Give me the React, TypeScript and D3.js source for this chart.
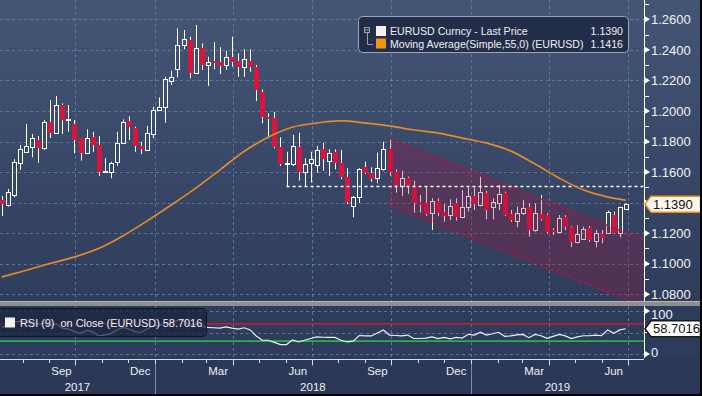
import React, { useRef, useEffect } from 'react';
import * as d3 from 'd3';

// weekly EURUSD bars, first bar = week of 3 Jul 2017
const FIRST_WEEK = '2017-07-03';

const opens = [
  1.1417, 1.1385, 1.1450, 1.1658, 1.1733, 1.1762, 1.1810, 1.1756, 1.1928, 1.1858,
  1.2039, 1.1940, 1.1915, 1.1821, 1.1727, 1.1828, 1.1777, 1.1603, 1.1603, 1.1668,
  1.1792, 1.1932, 1.1887, 1.1771, 1.1745, 1.1849, 1.2006, 1.2028, 1.2198, 1.2273,
  1.2432, 1.2465, 1.2251, 1.2410, 1.2301, 1.2329, 1.2323, 1.2301, 1.2351, 1.2329,
  1.2286, 1.2329, 1.2290, 1.2122, 1.1959, 1.1952, 1.1762, 1.1653, 1.1653, 1.1762,
  1.1603, 1.1658, 1.1646, 1.1749, 1.1675, 1.1733, 1.1658, 1.1566, 1.1378, 1.1435,
  1.1631, 1.1596, 1.1559, 1.1618, 1.1749, 1.1603, 1.1509, 1.1559, 1.1509, 1.1406,
  1.1396, 1.1330, 1.1413, 1.1341, 1.1319, 1.1396, 1.1304, 1.1370, 1.1443, 1.1385,
  1.1465, 1.1370, 1.1400, 1.1461, 1.1326, 1.1282, 1.1330, 1.1370, 1.1221, 1.1326,
  1.1319, 1.1223, 1.1210, 1.1308, 1.1239, 1.1144, 1.1160, 1.1232, 1.1151, 1.1195,
  1.1203, 1.1319, 1.1203, 1.1357,
];
const highs = [
  1.1443, 1.1489, 1.1684, 1.1777, 1.1915, 1.1849, 1.1836, 1.1941, 1.2072, 1.2098,
  1.2050, 1.2039, 1.1941, 1.1823, 1.1880, 1.1864, 1.1836, 1.1690, 1.1668, 1.1864,
  1.1945, 1.1965, 1.1897, 1.1799, 1.1902, 1.2028, 1.2089, 1.2224, 1.2264, 1.2541,
  1.2530, 1.2486, 1.2563, 1.2443, 1.2355, 1.2451, 1.2417, 1.2394, 1.2486, 1.2377,
  1.2404, 1.2404, 1.2300, 1.2142, 1.1985, 1.1995, 1.1828, 1.1733, 1.1843, 1.1858,
  1.1690, 1.1733, 1.1771, 1.1792, 1.1749, 1.1749, 1.1745, 1.1625, 1.1443, 1.1625,
  1.1668, 1.1631, 1.1727, 1.1799, 1.1815, 1.1618, 1.1609, 1.1570, 1.1544, 1.1450,
  1.1505, 1.1430, 1.1428, 1.1391, 1.1422, 1.1428, 1.1482, 1.1500, 1.1500, 1.1570,
  1.1478, 1.1428, 1.1516, 1.1472, 1.1352, 1.1374, 1.1418, 1.1396, 1.1396, 1.1450,
  1.1330, 1.1232, 1.1319, 1.1319, 1.1247, 1.1254, 1.1243, 1.1247, 1.1221, 1.1221,
  1.1347, 1.1341, 1.1374, 1.1396,
];
const lows = [
  1.1313, 1.1374, 1.1435, 1.1614, 1.1727, 1.1697, 1.1661, 1.1745, 1.1823, 1.1854,
  1.1849, 1.1864, 1.1723, 1.1675, 1.1718, 1.1733, 1.1574, 1.1599, 1.1559, 1.1640,
  1.1784, 1.1810, 1.1733, 1.1718, 1.1738, 1.1821, 1.2006, 1.1923, 1.2170, 1.2220,
  1.2404, 1.2214, 1.2242, 1.2268, 1.2164, 1.2273, 1.2242, 1.2268, 1.2290, 1.2224,
  1.2224, 1.2257, 1.2065, 1.1919, 1.1821, 1.1756, 1.1640, 1.1509, 1.1640, 1.1544,
  1.1509, 1.1531, 1.1596, 1.1609, 1.1574, 1.1618, 1.1553, 1.1391, 1.1304, 1.1396,
  1.1588, 1.1537, 1.1527, 1.1609, 1.1574, 1.1465, 1.1443, 1.1457, 1.1334, 1.1334,
  1.1313, 1.1221, 1.1313, 1.1275, 1.1286, 1.1282, 1.1298, 1.1341, 1.1352, 1.1374,
  1.1291, 1.1291, 1.1352, 1.1313, 1.1275, 1.1239, 1.1319, 1.1177, 1.1210, 1.1282,
  1.1199, 1.1188, 1.1199, 1.1221, 1.1108, 1.1134, 1.1156, 1.1144, 1.1108, 1.1134,
  1.1199, 1.1195, 1.1173, 1.1352,
];
const closes = [
  1.1391, 1.1472, 1.1668, 1.1749, 1.1771, 1.1821, 1.1756, 1.1930, 1.1858, 1.2039,
  1.1941, 1.1946, 1.1810, 1.1727, 1.1821, 1.1777, 1.1603, 1.1606, 1.1661, 1.1788,
  1.1930, 1.1897, 1.1771, 1.1749, 1.1858, 1.2006, 1.2028, 1.2207, 1.2224, 1.2432,
  1.2469, 1.2251, 1.2410, 1.2301, 1.2319, 1.2312, 1.2294, 1.2355, 1.2322, 1.2286,
  1.2338, 1.2286, 1.2135, 1.1959, 1.1946, 1.1766, 1.1653, 1.1661, 1.1771, 1.1603,
  1.1653, 1.1684, 1.1745, 1.1684, 1.1727, 1.1658, 1.1566, 1.1406, 1.1435, 1.1618,
  1.1596, 1.1553, 1.1625, 1.1749, 1.1603, 1.1515, 1.1559, 1.1509, 1.1400, 1.1385,
  1.1326, 1.1413, 1.1330, 1.1313, 1.1378, 1.1304, 1.1370, 1.1443, 1.1391, 1.1472,
  1.1352, 1.1406, 1.1457, 1.1319, 1.1287, 1.1334, 1.1363, 1.1221, 1.1330, 1.1293,
  1.1210, 1.1215, 1.1298, 1.1239, 1.1144, 1.1195, 1.1226, 1.1156, 1.1199, 1.1167,
  1.1341, 1.1203, 1.1370, 1.1390,
];

// RSI(9) on close, one value per week
const rsiValues = [
  62, 68, 75, 76, 74, 75, 70, 72, 66, 70,
  60, 58, 52, 48, 55, 52, 42, 44, 48, 56,
  62, 58, 52, 50, 58, 65, 66, 72, 72, 78,
  78, 66, 70, 64, 62, 61, 60, 63, 60, 58,
  61, 56, 42, 32, 32, 27, 22, 22, 33, 28,
  32, 36, 40, 39, 38.5, 38.5, 32, 28, 30, 43,
  42, 42, 49, 56, 44, 43, 42, 44, 36, 36,
  37, 40, 36, 38.5, 35, 38.5, 37, 45.7, 44, 50.5,
  44, 47, 50.5, 41, 42, 44.5, 45.7, 38, 45.7, 42.5,
  36.5, 41, 45.7, 42, 36, 40, 42.5, 42.5, 44, 42.5,
  56, 48, 56, 58.7,
];

// 55-week simple moving average, read every 4th week
const maWeeks = [0, 4, 8, 12, 16, 20, 24, 28, 32, 36, 40, 44, 48, 52, 56, 60, 64, 68, 72, 76, 80, 84, 88, 92, 96, 100, 103];
const maValues = [
  1.0913, 1.0957, 1.1002, 1.1044, 1.1100, 1.1183, 1.1280, 1.1385, 1.1494, 1.1614,
  1.1735, 1.1829, 1.1894, 1.1921, 1.1936, 1.1921, 1.1902, 1.1876, 1.1856, 1.1823,
  1.1790, 1.1738, 1.1653, 1.1561, 1.1483, 1.1437, 1.1416,
];

const priceTicks = [1.08, 1.10, 1.12, 1.14, 1.16, 1.18, 1.20, 1.22, 1.24, 1.26];
const rsiTicks = [0, 100];
const monthLabelDates = ['2017-09-15', '2017-12-15', '2018-03-15', '2018-06-15', '2018-09-15', '2018-12-15', '2019-03-15', '2019-06-15'];
const monthLabels = ['Sep', 'Dec', 'Mar', 'Jun', 'Sep', 'Dec', 'Mar', 'Jun'];
const yearLabels = ['2017', '2018', '2019'];

const lastPrice = 1.1390;
const lastMA = 1.1416;
const lastRSI = 58.7016;
const supportLevel = 1.1509;
const supportWeek = 47;
const channelDates = ['2018-09-28', '2019-07-20'];
const channelUpper = [1.1821, 1.1157];
const channelLower = [1.1385, 1.0720];

const App = () => {
  const svgRef = useRef(null);

  useEffect(() => {
    const width = 702;
    const height = 396;
    const plotRight = 644;
    const mainBottom = 301;
    const rsiTop = 306;
    const rsiBottom = 358;
    const axisY = 359.5;
    const font = 'Liberation Sans, Arial, sans-serif';

    const svg = d3.select(svgRef.current);
    svg.selectAll('*').remove();

    const parse = d3.timeParse('%Y-%m-%d');
    const weekDates = opens.map((_, i) => d3.timeDay.offset(parse(FIRST_WEEK), i * 7 + 5));

    const x = d3.scaleTime()
      .domain([parse('2017-07-06'), parse('2019-07-20')])
      .range([0, plotRight]);
    const y = d3.scaleLinear().domain([1.08, 1.26]).range([294.3, 19.3]);
    const yRsi = d3.scaleLinear().domain([0, 100]).range([354, 311]);

    const defs = svg.append('defs');
    const grad = defs.append('linearGradient').attr('id', 'bgGrad')
      .attr('x1', 0).attr('y1', 0).attr('x2', 0).attr('y2', 1);
    grad.append('stop').attr('offset', '0%').attr('stop-color', '#445576');
    grad.append('stop').attr('offset', '100%').attr('stop-color', '#2f3d5c');
    defs.append('clipPath').attr('id', 'mainClip').append('rect')
      .attr('x', 0).attr('y', 0).attr('width', plotRight).attr('height', mainBottom);
    defs.append('clipPath').attr('id', 'rsiClip').append('rect')
      .attr('x', 0).attr('y', rsiTop).attr('width', plotRight).attr('height', rsiBottom - rsiTop);

    // backgrounds
    svg.append('rect').attr('width', width).attr('height', height).attr('fill', '#2b3857');
    svg.append('rect').attr('width', width).attr('height', mainBottom).attr('fill', 'url(#bgGrad)');
    svg.append('rect').attr('y', rsiTop).attr('width', width).attr('height', rsiBottom - rsiTop).attr('fill', '#2e3c5b');

    const quarters = x.ticks(d3.timeMonth.every(3));
    const gridColor = '#6f84a6';

    // main grid
    const grid = svg.append('g').attr('stroke', gridColor).attr('stroke-opacity', 0.75)
      .attr('stroke-dasharray', '3,3').attr('stroke-width', 1);
    priceTicks.forEach(t => {
      grid.append('line').attr('x1', 0).attr('x2', plotRight)
        .attr('y1', Math.round(y(t)) + 0.5).attr('y2', Math.round(y(t)) + 0.5);
    });
    quarters.forEach(q => {
      const qx = Math.round(x(q)) + 0.5;
      grid.append('line').attr('x1', qx).attr('x2', qx).attr('y1', 0).attr('y2', mainBottom);
      grid.append('line').attr('x1', qx).attr('x2', qx).attr('y1', rsiTop).attr('y2', rsiBottom);
    });
    [0, 50, 100].forEach(t => {
      grid.append('line').attr('x1', 0).attr('x2', plotRight)
        .attr('y1', Math.round(yRsi(t)) + 0.5).attr('y2', Math.round(yRsi(t)) + 0.5);
    });

    // candles
    const plot = svg.append('g').attr('clip-path', 'url(#mainClip)');
    const bars = opens.map((o, i) => ({ date: weekDates[i], open: o, high: highs[i], low: lows[i], close: closes[i] }));

    plot.selectAll('.candle')
      .data(bars)
      .enter()
      .append('g')
      .attr('class', 'candle')
      .each(function (d) {
        const g = d3.select(this);
        const cx = Math.round(x(d.date));
        const up = d.close >= d.open;
        const top = Math.round(y(Math.max(d.open, d.close)));
        let bot = Math.round(y(Math.min(d.open, d.close)));
        if (bot - top < 1) bot = top + 1;
        const hi = y(d.high);
        const lo = y(d.low);
        if (up) {
          g.append('line').attr('x1', cx + 0.5).attr('x2', cx + 0.5).attr('y1', hi).attr('y2', top)
            .attr('stroke', '#ffffff').attr('stroke-width', 1);
          g.append('line').attr('x1', cx + 0.5).attr('x2', cx + 0.5).attr('y1', bot + 1).attr('y2', lo)
            .attr('stroke', '#ffffff').attr('stroke-width', 1);
          g.append('rect').attr('x', cx - 1.5).attr('y', top + 0.5).attr('width', 4).attr('height', bot - top)
            .attr('fill', 'none').attr('stroke', '#ffffff').attr('stroke-width', 1);
        } else {
          g.append('line').attr('x1', cx + 0.5).attr('x2', cx + 0.5).attr('y1', hi).attr('y2', lo)
            .attr('stroke', '#ffffff').attr('stroke-width', 1);
          g.append('rect').attr('x', cx - 2).attr('y', top).attr('width', 5).attr('height', Math.max(bot - top, 2))
            .attr('fill', '#dc143c');
        }
      });

    // regression channel
    const cx0 = x(parse(channelDates[0]));
    const cx1 = x(parse(channelDates[1]));
    plot.append('polygon')
      .attr('points', [
        [cx0, y(channelUpper[0])], [cx1, y(channelUpper[1])],
        [cx1, y(channelLower[1])], [cx0, y(channelLower[0])],
      ].map(p => p.join(',')).join(' '))
      .attr('fill', '#a0123e').attr('fill-opacity', 0.28);
    [channelUpper, channelLower].forEach(edge => {
      plot.append('line')
        .attr('x1', cx0).attr('y1', y(edge[0])).attr('x2', cx1).attr('y2', y(edge[1]))
        .attr('stroke', '#a8183e').attr('stroke-width', 1.5).attr('stroke-dasharray', '4,2');
    });

    // support line from the May 2018 low
    const supY = Math.round(y(supportLevel)) + 0.5;
    plot.append('line')
      .attr('x1', x(weekDates[supportWeek])).attr('x2', plotRight)
      .attr('y1', supY).attr('y2', supY)
      .attr('stroke', '#ffffff').attr('stroke-width', 1.3).attr('stroke-dasharray', '3,3');

    // moving average
    const maLine = d3.line()
      .x(i => x(weekDates[maWeeks[i]]))
      .y(i => y(maValues[i]))
      .curve(d3.curveMonotoneX);
    plot.append('path')
      .attr('d', maLine(maValues.map((_, i) => i)))
      .attr('fill', 'none').attr('stroke', '#8a5520').attr('stroke-width', 2.6).attr('stroke-opacity', 0.5);
    plot.append('path')
      .attr('d', maLine(maValues.map((_, i) => i)))
      .attr('fill', 'none').attr('stroke', '#e3913a').attr('stroke-width', 1.4);

    // main legend
    const lg = svg.append('g').style('font-family', font);
    lg.append('rect').attr('x', 358.5).attr('y', 16.5).attr('width', 270).attr('height', 36).attr('rx', 4)
      .attr('fill', '#1f2a47').attr('fill-opacity', 0.92).attr('stroke', '#9aa6bb').attr('stroke-width', 1);
    lg.append('rect').attr('x', 364.5).attr('y', 27.5).attr('width', 5).attr('height', 5)
      .attr('fill', 'none').attr('stroke', '#9aa3b5').attr('stroke-width', 1);
    lg.append('line').attr('x1', 365).attr('x2', 369).attr('y1', 30).attr('y2', 30).attr('stroke', '#9aa3b5');
    lg.append('path').attr('d', 'M367.5,33 V44.5 H373').attr('fill', 'none').attr('stroke', '#9aa3b5');
    lg.append('rect').attr('x', 376).attr('y', 26).attr('width', 10).attr('height', 10).attr('fill', '#f6f1ea');
    lg.append('rect').attr('x', 376).attr('y', 38.5).attr('width', 10).attr('height', 10).attr('fill', '#f39314');
    const legendRows = [
      { label: 'EURUSD Curncy - Last Price', value: lastPrice.toFixed(4), yy: 35 },
      { label: 'Moving Average(Simple,55,0) (EURUSD)', value: lastMA.toFixed(4), yy: 48 },
    ];
    legendRows.forEach(r => {
      lg.append('text').attr('x', 390).attr('y', r.yy).attr('fill', '#f0f0f0')
        .style('font-size', '10.6px').text(r.label);
      lg.append('text').attr('x', 623).attr('y', r.yy).attr('fill', '#f0f0f0')
        .attr('text-anchor', 'end').style('font-size', '10.6px').text(r.value);
    });

    // RSI panel
    const rsiG = svg.append('g').attr('clip-path', 'url(#rsiClip)');
    rsiG.append('line').attr('x1', 0).attr('x2', plotRight).attr('y1', yRsi(70)).attr('y2', yRsi(70))
      .attr('stroke', '#b52038').attr('stroke-width', 1.6);
    rsiG.append('line').attr('x1', 0).attr('x2', plotRight).attr('y1', yRsi(30)).attr('y2', yRsi(30))
      .attr('stroke', '#28b34a').attr('stroke-width', 1.6);
    const rsiLine = d3.line()
      .x((_, i) => x(weekDates[i]))
      .y(d => yRsi(d));
    rsiG.append('path').attr('d', rsiLine(rsiValues))
      .attr('fill', 'none').attr('stroke', '#eeeeee').attr('stroke-width', 1.2);

    const rl = svg.append('g').style('font-family', font);
    rl.append('rect').attr('x', -3.5).attr('y', 308.5).attr('width', 210).attr('height', 28).attr('rx', 4)
      .attr('fill', '#1a2440').attr('fill-opacity', 0.72).attr('stroke', '#0d1326').attr('stroke-width', 1);
    rl.append('rect').attr('x', 5).attr('y', 317.5).attr('width', 10).attr('height', 10).attr('fill', '#f6f1ea');
    rl.append('text').attr('x', 20).attr('y', 327).attr('fill', '#f0f0f0')
      .style('font-size', '10.9px').style('white-space', 'pre')
      .text(`RSI (9)  on Close (EURUSD) ${lastRSI.toFixed(4)}`);

    // separator bar
    svg.append('rect').attr('x', 0).attr('y', mainBottom).attr('width', width).attr('height', 5).attr('fill', '#8f8f8f');
    svg.append('rect').attr('x', 0).attr('y', mainBottom).attr('width', width).attr('height', 1).attr('fill', '#b5b5b5');

    // right axes
    const ax = svg.append('g').style('font-family', font);
    ax.append('line').attr('x1', plotRight + 0.5).attr('x2', plotRight + 0.5).attr('y1', 0).attr('y2', mainBottom)
      .attr('stroke', '#ffffff');
    ax.append('line').attr('x1', plotRight + 0.5).attr('x2', plotRight + 0.5).attr('y1', rsiTop).attr('y2', rsiBottom)
      .attr('stroke', '#ffffff');
    d3.range(1.07, 1.275, 0.01).forEach(v => {
      const ty = Math.round(y(v)) + 0.5;
      if (ty < 2 || ty > mainBottom - 2) return;
      ax.append('line').attr('x1', plotRight).attr('x2', plotRight + 5).attr('y1', ty).attr('y2', ty)
        .attr('stroke', '#ffffff');
    });
    const tagY = y(lastPrice);
    priceTicks.forEach(t => {
      const ty = y(t);
      ax.append('path').attr('d', `M${plotRight + 1},${ty - 3} L${plotRight + 6},${ty} L${plotRight + 1},${ty + 3} Z`)
        .attr('fill', '#ffffff');
      // the last-price tag covers the tick label next to it
      if (Math.abs(ty - tagY) < 14) return;
      ax.append('text').attr('x', plotRight + 7).attr('y', ty).attr('dy', '0.36em')
        .attr('fill', '#f2f2f2').style('font-size', '13px').text(t.toFixed(4));
    });
    [50].forEach(v => {
      ax.append('line').attr('x1', plotRight).attr('x2', plotRight + 5)
        .attr('y1', yRsi(v)).attr('y2', yRsi(v)).attr('stroke', '#ffffff');
    });
    rsiTicks.forEach(t => {
      const ty = yRsi(t);
      ax.append('path').attr('d', `M${plotRight + 1},${ty - 3} L${plotRight + 6},${ty} L${plotRight + 1},${ty + 3} Z`)
        .attr('fill', '#ffffff');
      ax.append('text').attr('x', plotRight + 7).attr('y', t === 100 ? ty + 3 : ty - 2).attr('dy', '0.36em')
        .attr('fill', '#f2f2f2').style('font-size', '13px').text(String(t));
    });

    // value tags
    const tag = (cy, text, fill, stroke) => {
      ax.append('path')
        .attr('d', `M${plotRight + 1},${cy} L${plotRight + 7},${cy - 8} H${width - 1.5} V${cy + 8} H${plotRight + 7} Z`)
        .attr('fill', fill).attr('stroke', stroke).attr('stroke-width', 1.5);
      ax.append('text').attr('x', plotRight + 9).attr('y', cy).attr('dy', '0.36em')
        .attr('fill', '#111111').style('font-size', '13px').text(text);
    };
    tag(tagY, lastPrice.toFixed(4), '#fff7ec', '#f0900a');
    tag(yRsi(lastRSI), lastRSI.toFixed(4), '#ffffff', '#1a1a1a');

    // time axis
    const xa = svg.append('g').style('font-family', font);
    xa.append('line').attr('x1', 0).attr('x2', plotRight).attr('y1', axisY).attr('y2', axisY)
      .attr('stroke', '#d6dbe4').attr('stroke-width', 1);
    x.ticks(d3.timeMonth.every(1)).forEach(m => {
      const mx = Math.round(x(m)) + 0.5;
      const long = m.getMonth() % 3 === 0;
      xa.append('line').attr('x1', mx).attr('x2', mx).attr('y1', axisY).attr('y2', axisY + (long ? 6 : 3.5))
        .attr('stroke', '#d6dbe4');
    });
    monthLabelDates.forEach((d, i) => {
      xa.append('text').attr('x', x(parse(d))).attr('y', 375).attr('text-anchor', 'middle')
        .attr('fill', '#eceff4').style('font-size', '11.5px').text(monthLabels[i]);
    });
    const yearBounds = [0, x(parse('2018-01-01')), x(parse('2019-01-01')), plotRight];
    [1, 2].forEach(i => {
      const bx = Math.round(yearBounds[i]) + 0.5;
      xa.append('line').attr('x1', bx).attr('x2', bx).attr('y1', 364).attr('y2', height)
        .attr('stroke', '#7e8ba6').attr('stroke-width', 1);
    });
    yearLabels.forEach((lab, i) => {
      xa.append('text').attr('x', (yearBounds[i] + yearBounds[i + 1]) / 2).attr('y', 391)
        .attr('text-anchor', 'middle').attr('fill', '#eceff4').style('font-size', '11.5px').text(lab);
    });

    // outer frame
    svg.append('rect').attr('x', width - 2).attr('y', 0).attr('width', 2).attr('height', height).attr('fill', '#000000');
    svg.append('rect').attr('x', 0).attr('y', height - 2).attr('width', width).attr('height', 2).attr('fill', '#000000');
  }, []);

  return (
    <svg
      ref={svgRef}
      width={702}
      height={396}
      style={{ position: 'absolute', left: 0, top: 0, display: 'block' }}
    />
  );
};

export default App;
